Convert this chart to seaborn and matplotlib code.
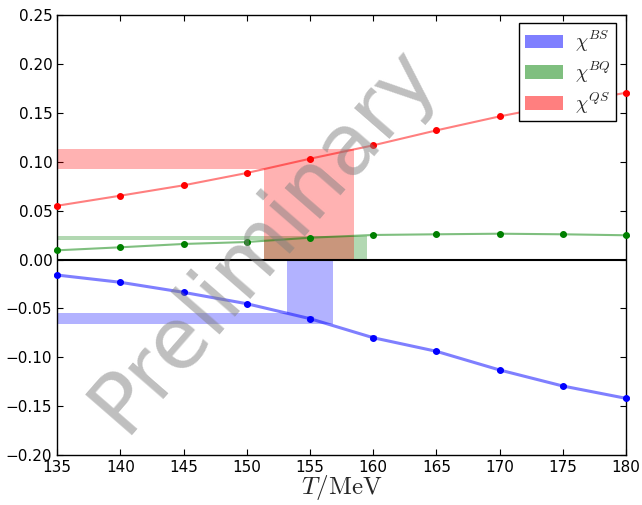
import numpy as np
import pandas as pd
import matplotlib
matplotlib.use("Agg")
import matplotlib.pyplot as plt
import seaborn as sns
from matplotlib.patches import Patch

# ---- data ----
T = [135, 140, 145, 150, 155, 160, 165, 170, 175, 180]
chi_BS = [-0.0159, -0.0233, -0.0336, -0.0452, -0.0605, -0.0800, -0.0939, -0.1130, -0.1294, -0.1420]
chi_BS_err = [0.0010, 0.0010, 0.0010, 0.0012, 0.0012, 0.0015, 0.0012, 0.0010, 0.0010, 0.0010]
chi_BQ = [0.0094, 0.0125, 0.0159, 0.0179, 0.0223, 0.0251, 0.0258, 0.0264, 0.0258, 0.0248]
chi_BQ_err = [0.0005] * 10
chi_QS = [0.0550, 0.0653, 0.0759, 0.0885, 0.1031, 0.1168, 0.1321, 0.1464, 0.1590, 0.1706]
chi_QS_err = [0.0008] * 10

# bands: (T_low, T_high, value_low, value_high)
band_BS = (153.15, 156.8, -0.0663, -0.0547)
band_BQ = (151.4, 159.5, 0.0199, 0.0240)
band_QS = (151.4, 158.45, 0.0922, 0.1127)

series_names = [r"$\chi^{BS}$", r"$\chi^{BQ}$", r"$\chi^{QS}$"]
colors = ["b", "g", "r"]
xlim = (135, 180)
ylim = (-0.20, 0.25)
xticks = [135, 140, 145, 150, 155, 160, 165, 170, 175, 180]
yticks = [-0.20, -0.15, -0.10, -0.05, 0.00, 0.05, 0.10, 0.15, 0.20, 0.25]

# ---- style ----
sns.set_style("ticks")
plt.rcParams.update({
    "font.family": ["DejaVu Sans"],
    "mathtext.fontset": "cm",
    "xtick.direction": "in",
    "ytick.direction": "in",
    "xtick.top": True,
    "ytick.right": True,
    "xtick.major.size": 4,
    "ytick.major.size": 4,
    "axes.edgecolor": "black",
    "axes.linewidth": 1.0,
    "xtick.color": "black",
    "ytick.color": "black",
})

fig = plt.figure(figsize=(6.42, 5.05), dpi=100)
ax = fig.add_axes([0.089, 0.099, 0.886, 0.871])

# bands as single L-shaped polygons
def draw_band(band, color):
    tlo, thi, vlo, vhi = band
    x = [xlim[0], tlo, tlo, thi]
    if vhi > 0:
        y1 = [vlo, vlo, 0, 0]
        y2 = [vhi, vhi, vhi, vhi]
    else:
        y1 = [vlo, vlo, vlo, vlo]
        y2 = [vhi, vhi, 0, 0]
    ax.fill_between(x, y1, y2, color=color, alpha=0.3, lw=0, zorder=1)

for band, c in zip([band_BS, band_BQ, band_QS], colors):
    draw_band(band, c)

ax.axhline(0, color="black", lw=1.5, zorder=2)

df = pd.DataFrame({"T": T, "BS": chi_BS, "BQ": chi_BQ, "QS": chi_QS})
for key, err, c, lw in zip(["BS", "BQ", "QS"], [chi_BS_err, chi_BQ_err, chi_QS_err], colors, [2.2, 1.5, 1.5]):
    sns.lineplot(data=df, x="T", y=key, color=c, alpha=0.5, lw=lw, ax=ax, zorder=3)
    ax.errorbar(df["T"], df[key], yerr=err, fmt="o", color=c, ms=4, mec=c,
                capsize=2.5, elinewidth=1, zorder=4, clip_on=False)

ax.set_xlim(*xlim)
ax.set_ylim(*ylim)
ax.set_xticks(xticks)
ax.set_yticks(yticks)
ax.set_yticklabels([f"{v:.2f}".replace("-", "\u2212") if abs(v) > 1e-9 else "0.00" for v in yticks])
ax.tick_params(labelsize=11)
ax.set_xlabel(r"$T/\mathrm{MeV}$", fontsize=18, labelpad=-1)
ax.set_ylabel("")

handles = [Patch(facecolor=c, alpha=0.5, edgecolor="none") for c in colors]
leg = ax.legend(handles, series_names, loc="upper right", fontsize=14, frameon=True,
                fancybox=False, edgecolor="black", framealpha=1, borderpad=0.3,
                labelspacing=0.28, handlelength=1.95, handleheight=0.7, handletextpad=0.6,
                borderaxespad=0, bbox_to_anchor=(0.983, 0.982))
leg.get_frame().set_linewidth(1.0)
leg.set_zorder(6)

ax.text(0.363, 0.492, "Preliminary", transform=ax.transAxes, fontsize=61,
        color="gray", alpha=0.5, rotation=49, ha="center", va="center",
        rotation_mode="anchor", zorder=10)

fig.savefig("out.png", dpi=100)
